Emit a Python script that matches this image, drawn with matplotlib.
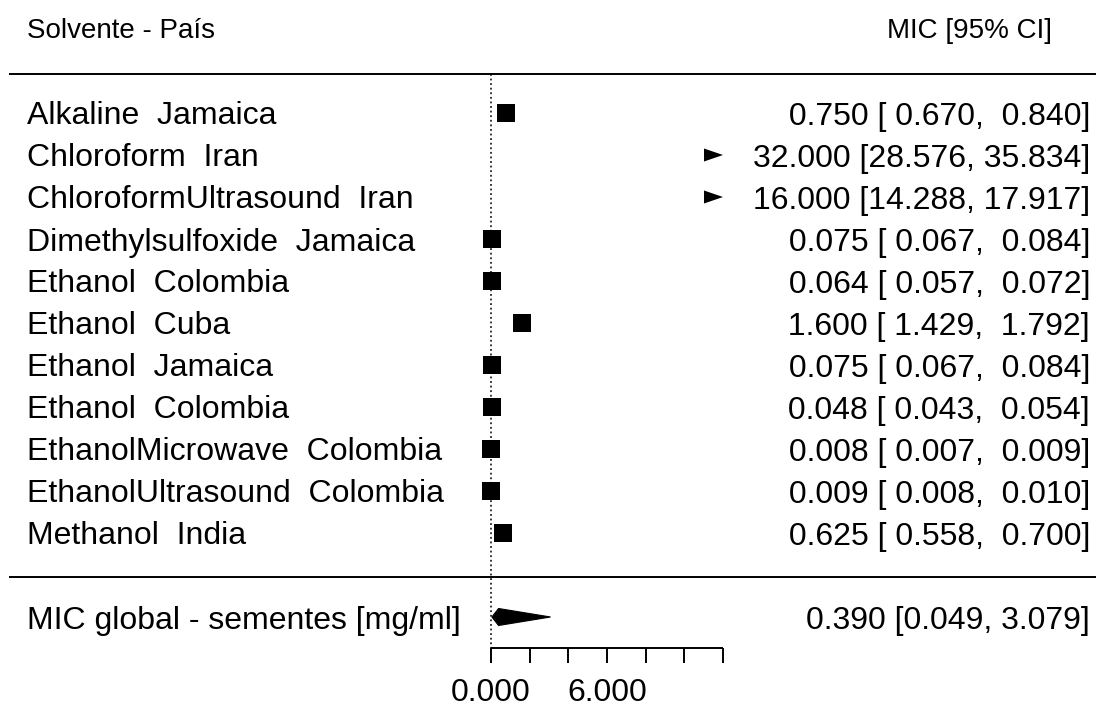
import matplotlib
matplotlib.use("Agg")
import matplotlib.pyplot as plt
from matplotlib.patches import Polygon

plt.rcParams['font.family'] = ['Liberation Sans', 'DejaVu Sans']

# Study labels (solvent - country)
labels = [
    "Alkaline  Jamaica",
    "Chloroform  Iran",
    "ChloroformUltrasound  Iran",
    "Dimethylsulfoxide  Jamaica",
    "Ethanol  Colombia",
    "Ethanol  Cuba",
    "Ethanol  Jamaica",
    "Ethanol  Colombia",
    "EthanolMicrowave  Colombia",
    "EthanolUltrasound  Colombia",
    "Methanol  India",
]
# MIC estimates and 95% CI bounds [mg/ml]
est = [0.750, 32.000, 16.000, 0.075, 0.064, 1.600, 0.075, 0.048, 0.008, 0.009, 0.625]
ci_lo = [0.670, 28.576, 14.288, 0.067, 0.057, 1.429, 0.067, 0.043, 0.007, 0.008, 0.558]
ci_hi = [0.840, 35.834, 17.917, 0.084, 0.072, 1.792, 0.084, 0.054, 0.009, 0.010, 0.700]

# Pooled estimate
pooled_label = "MIC global - sementes [mg/ml]"
pooled_est, pooled_lo, pooled_hi = 0.390, 0.049, 3.079

# x axis
xticks = [0, 2, 4, 6, 8, 10, 12]
xtick_labels = {0: "0.000", 6: "6.000"}
alim = (0, 12)

W, H = 1096, 708
fig = plt.figure(figsize=(W / 100, H / 100), dpi=100)
ax = fig.add_axes([0, 0, 1, 1])
ax.set_axis_off()

px_per_unit = 232 / 12.0
x_origin_px = 491
ax.set_xlim(-x_origin_px / px_per_unit, (W - x_origin_px) / px_per_unit)
row_px = 42.0
ax.set_ylim(1 - (H - 533) / row_px, 1 + 533 / row_px)

def px_x(p):
    return (p - x_origin_px) / px_per_unit

def px_dy(p):
    return p / row_px

k = len(labels)
rows = list(range(k, 0, -1))
fs = 23.0
fs_head = 20.0
base_off = px_dy(11.5)

x_left = px_x(27)
x_right = px_x(1090)

# header
ax.text(x_left, 12.786, "Solvente - País", fontsize=fs_head, ha="left", va="baseline")
ax.text(px_x(1052), 12.786, "MIC [95% CI]", fontsize=fs_head, ha="right", va="baseline")

# separator lines
ax.plot([px_x(9), px_x(W)], [11.93, 11.93], color="black", lw=1.4, solid_capstyle="butt")
ax.plot([px_x(9), px_x(W)], [-0.05, -0.05], color="black", lw=1.4, solid_capstyle="butt")

# reference line at zero
ax.plot([0, 0], [11.93, -1.74], color="black", lw=1.1, linestyle=(0, (1.2, 1.8)))

def fmt(v, w):
    return f"{v:{w}.3f}"

for r, lab, e, lo, hi in zip(rows, labels, est, ci_lo, ci_hi):
    ax.text(x_left, r - base_off, lab, fontsize=fs, ha="left", va="baseline")
    txt = f"{fmt(e, 6)} [{fmt(lo, 6)}, {fmt(hi, 6)}]"
    ax.text(x_right, r - base_off, txt, fontsize=fs, ha="right", va="baseline")
    if lo > alim[1]:
        tip = alim[1]
        base = tip - 19 / px_per_unit
        hh = px_dy(6.5)
        ax.add_patch(Polygon([[base, r + hh], [tip, r], [base, r - hh]],
                             closed=True, facecolor="black", edgecolor="none"))
    else:
        ax.plot([max(lo, alim[0]), min(hi, alim[1])], [r, r], color="black", lw=1.2)
        ax.plot([e], [r], marker="s", markersize=12.8, color="black",
                markeredgewidth=0, linestyle="none")

# pooled estimate
ax.text(x_left, -1 - base_off, pooled_label, fontsize=fs, ha="left", va="baseline")
ax.text(x_right, -1 - base_off, f"{pooled_est:.3f} [{pooled_lo:.3f}, {pooled_hi:.3f}]",
        fontsize=fs, ha="right", va="baseline")
dh = px_dy(8.5)
ax.add_patch(Polygon([[pooled_lo, -1], [pooled_est, -1 + dh], [pooled_hi, -1],
                      [pooled_est, -1 - dh]], closed=True, facecolor="black",
                     edgecolor="black", lw=0.8))

# x axis
y_axis = -1.738
y_tick = -2.095
ax.plot([alim[0], alim[1]], [y_axis, y_axis], color="black", lw=1.4, solid_capstyle="butt")
for t in xticks:
    ax.plot([t, t], [y_axis, y_tick], color="black", lw=1.4, solid_capstyle="butt")
    if t in xtick_labels:
        ax.text(t, 1 - (701 - 533) / row_px, xtick_labels[t], fontsize=fs,
                ha="center", va="baseline")

fig.savefig("out.png", dpi=100)
